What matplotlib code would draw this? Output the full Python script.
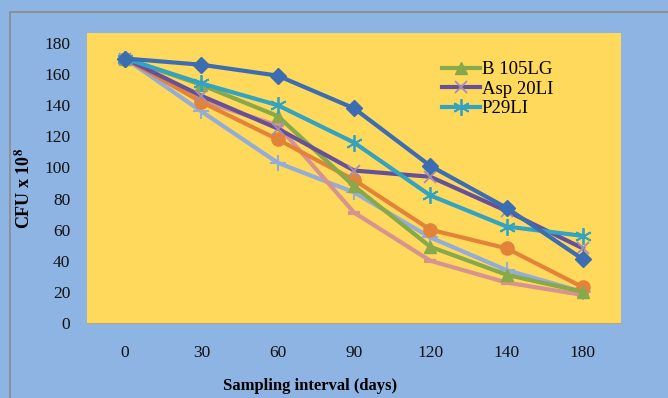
import numpy as np
import matplotlib.pyplot as plt
from matplotlib.patches import Rectangle

plt.rcParams['font.family'] = ['Liberation Serif', 'DejaVu Serif']
plt.rcParams['mathtext.fontset'] = 'stix'

# sampling days (categories) and CFU counts
days = ['0', '30', '60', '90', '120', '140', '180']
isolate_a = [170, 166, 159, 138, 101, 74, 41]      # dark blue diamonds
b105lg = [170, 153, 133, 88, 49, 31, 20]
asp20li = [170, 146, 125, 98, 94, 72, 48]
p29li = [170, 154, 140, 116, 82, 62, 56]
isolate_e = [170, 142, 118, 92, 60, 48, 23]         # orange circles
isolate_f = [170, 136, 103, 84, 55, 34, 20]         # light blue plus
isolate_g = [170, 143, 127, 71, 40, 26, 18]         # pink dash

fig = plt.figure(figsize=(6.68, 3.98), dpi=100)
fig.patch.set_facecolor('#8EB4E3')
fig.patches.append(Rectangle((10 / 668, -0.1), 1.1, 1 - 12 / 398 + 0.1,
                             transform=fig.transFigure, fill=False,
                             edgecolor='#8A8A8A', linewidth=1.2))

ax = fig.add_axes([87 / 668, 75 / 398, 534 / 668, 290 / 398])
ax.set_facecolor('#FED95C')
x = np.arange(len(days))

lw = 3
ax.plot(x, isolate_f, color='#93ACD8', lw=lw, marker='+', ms=11, mew=1.5)
ax.plot(x, isolate_g, color='#D6938F', lw=lw, marker='_', ms=9, mew=3)
ax.plot(x, isolate_e, color='#E3833A', lw=lw, marker='o', ms=9.5)
ax.plot(x, b105lg, color='#87A94A', lw=lw, marker='^', ms=9, label='B 105LG')
ax.plot(x, asp20li, color='#66509A', lw=lw, marker='x', ms=9, mew=1.3,
        mec='#A58FB0', label='Asp 20LI')
ax.plot(x, p29li, color='#34A2C1', lw=lw, marker=(6, 2, 0), ms=12, mew=1.3,
        label='P29LI')
ax.plot(x, isolate_a, color='#3C6DB0', lw=lw, marker='D', ms=8.5)

ax.set_xlim(-0.5, len(days) - 0.5)
ax.set_ylim(0, 186.4)
ax.set_xticks(x)
ax.set_xticklabels(days)
ax.set_yticks(np.arange(0, 181, 20))
ax.tick_params(length=0, labelsize=12.5, colors='#111111')
ax.tick_params(axis='x', pad=16)
ax.tick_params(axis='y', pad=12)
for s in ['top', 'left', 'right']:
    ax.spines[s].set_visible(False)
ax.spines['bottom'].set_color('#B8A878')

fig.text(24 / 668, 1 - 188 / 398, r'CFU x 10$^{\mathbf{8}}$', rotation=90,
         ha='center', va='center', fontsize=13, fontweight='bold')
fig.text(310 / 668, 1 - 386 / 398, 'Sampling interval (days)',
         ha='center', va='center', fontsize=12, fontweight='bold')

ax.legend(loc='upper left', bbox_to_anchor=(346 / 534, 1 - 19 / 290),
          frameon=False, fontsize=13.5, handlelength=2.0, handletextpad=0.1,
          labelspacing=0.12, borderpad=0)

fig.savefig('out.png', dpi=100, facecolor=fig.get_facecolor())
